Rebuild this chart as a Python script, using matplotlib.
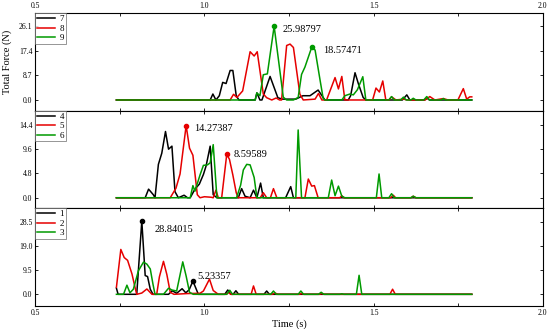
import matplotlib
matplotlib.use("Agg")
import matplotlib.pyplot as plt
from matplotlib.ticker import MultipleLocator, FormatStrFormatter

plt.rcParams['font.family'] = ['Liberation Serif', 'DejaVu Serif']

# ---- data: (time [s], force [N]) vertices per sensor ----
t1 = [0.74, 0.745, 0.80, 0.815, 0.825, 0.832, 0.840, 0.848, 0.894, 0.905, 0.918, 0.934, 0.945, 0.955, 0.966, 0.975,
      0.982, 1.060, 1.069, 1.078, 1.085, 1.093, 1.101, 1.176, 1.184, 1.192, 1.79]
f1 = [2.4, 0, 0, 28.84015, 7.4, 7.0, 2.0, 0, 0, 1.4, 0.4, 2.2, 0.6, 1.8, 5.23357, 2.3,
      0, 0, 1.7, 0, 0, 1.4, 0, 0, 1.3, 0, 0]

t2 = [0.74, 0.753, 0.763, 0.773, 0.786, 0.795, 0.800, 0.815, 0.830, 0.845, 0.859, 0.867, 0.879, 0.889, 0.899, 0.910,
      0.950, 0.987, 0.997, 1.015, 1.026, 1.041, 1.065, 1.071, 1.078, 1.138, 1.145, 1.153, 1.200, 1.209, 1.217,
      1.280, 1.287, 1.295, 1.340, 1.347, 1.355, 1.548, 1.556, 1.564, 1.79]
f2 = [2.8, 17.7, 14.5, 13.4, 8.0, 2.7, 0, 0.5, 2.1, 0, 0, 6.9, 13.0, 7.8, 0.8, 0,
      0.3, 0.4, 1.3, 6.0, 1.5, 0, 0, 0.7, 0, 0, 3.3, 0, 0, 0.5, 0,
      0, 0.3, 0, 0, 0.3, 0, 0, 2.0, 0, 0]

t3 = [0.74, 0.761, 0.771, 0.780, 0.790, 0.805, 0.820, 0.830, 0.840, 0.848, 0.854, 0.879, 0.894, 0.904, 0.918, 0.936,
      0.946, 0.956, 0.967, 1.066, 1.075, 1.083, 1.196, 1.204, 1.212, 1.277, 1.285, 1.293, 1.337, 1.345, 1.353,
      1.400, 1.406, 1.412, 1.449, 1.457, 1.465, 1.79]
f3 = [0, 0, 3.6, 0.6, 2.0, 9.3, 12.7, 11.9, 10.0, 4.0, 0, 0, 2.4, 1.7, 1.3, 12.8,
      7.2, 0.8, 0, 0, 1.6, 0, 0, 1.3, 0, 0, 1.3, 0, 0, 0.8, 0,
      0, 0.2, 0, 0, 7.5, 0, 0]

t4 = [0.74, 0.825, 0.835, 0.849, 0.854, 0.864, 0.874, 0.885, 0.894, 0.904, 0.913, 0.923, 0.940, 0.950, 0.958, 0.972,
      0.985, 0.997, 1.005, 1.017, 1.026, 1.037, 1.100, 1.110, 1.120, 1.135, 1.145, 1.155, 1.166, 1.174,
      1.240, 1.255, 1.263, 1.79]
f4 = [0, 0, 1.7, 0.6, 0, 6.6, 8.8, 13.1, 9.6, 10.2, 1.2, 0, 0.5, 0, 0, 1.7,
      2.7, 4.6, 6.3, 10.2, 0.6, 0, 0, 1.8, 0.3, 0, 1.5, 0, 2.9, 0,
      0, 2.2, 0, 0]

t5 = [0.74, 0.899, 0.916, 0.928, 0.946, 0.956, 0.966, 0.979, 0.987, 1.000, 1.020, 1.026, 1.034, 1.041, 1.051, 1.066,
      1.074, 1.084, 1.094, 1.100, 1.165, 1.174, 1.184, 1.195, 1.204, 1.214, 1.297, 1.307, 1.317, 1.325, 1.336,
      1.400, 1.406, 1.412, 1.550, 1.558, 1.565, 1.610, 1.617, 1.625, 1.79]
f5 = [0, 0, 1.9, 4.7, 14.27387, 9.8, 8.4, 0.6, 0, 0.2, 0.1, 0, 1.5, 0, 0, 8.59589,
      7.6, 4.5, 1.0, 0, 0, 1.0, 0, 0, 1.8, 0, 0, 3.7, 2.3, 2.4, 0,
      0, 0.4, 0, 0, 0.5, 0, 0, 0.3, 0, 0]

t6 = [0.74, 0.958, 0.966, 0.972, 0.987, 0.997, 1.009, 1.017, 1.026, 1.037, 1.095, 1.107, 1.115, 1.125, 1.135, 1.147,
      1.155, 1.270, 1.277, 1.287, 1.366, 1.376, 1.386, 1.396, 1.406, 1.415, 1.508, 1.516, 1.524,
      1.545, 1.553, 1.561, 1.610, 1.617, 1.625, 1.79]
f6 = [0, 0, 2.4, 1.3, 4.5, 6.4, 6.5, 6.9, 10.5, 0, 0, 2.5, 5.5, 6.6, 6.5, 4.0,
      0, 0, 13.4, 0, 0, 3.5, 0.4, 2.3, 0.3, 0, 0, 4.7, 0,
      0, 0.8, 0, 0, 0.3, 0, 0]

t7 = [0.74, 1.017, 1.025, 1.034, 1.044, 1.054, 1.064, 1.076, 1.084, 1.094, 1.102, 1.150, 1.155, 1.164, 1.170, 1.194,
      1.217, 1.230, 1.270, 1.291, 1.312, 1.336, 1.356, 1.425, 1.432, 1.445, 1.455, 1.469, 1.477,
      1.585, 1.598, 1.607, 1.650, 1.658, 1.665, 1.79]
f7 = [0, 0, 2.1, 0, 1.5, 6.2, 5.8, 10.4, 10.4, 1.5, 0, 0, 2.5, 0, 0, 8.3,
      0.8, 0.3, 0.3, 1.5, 1.5, 3.5, 0, 0, 1.5, 9.6, 5.7, 0.9, 0,
      0, 1.8, 0, 0, 0.6, 0, 0]

t8 = [0.74, 1.076, 1.086, 1.096, 1.113, 1.135, 1.147, 1.156, 1.174, 1.184, 1.199, 1.212, 1.222, 1.228, 1.243, 1.253,
      1.263, 1.282, 1.292, 1.327, 1.337, 1.347, 1.361, 1.386, 1.396, 1.406, 1.415, 1.497, 1.507, 1.517, 1.527,
      1.536, 1.545, 1.553, 1.566, 1.588, 1.600, 1.652, 1.666, 1.681, 1.706, 1.720, 1.749, 1.765, 1.775, 1.784, 1.79]
f8 = [0, 0, 2.0, 0.9, 3.2, 17.0, 15.5, 17.0, 2.1, 0.8, 0, 0.7, 0, 0, 19.2, 19.7,
      18.5, 2.1, 0, 0.3, 2.3, 0, 0, 7.9, 3.9, 8.3, 0, 0, 4.2, 2.8, 6.7,
      0, 0, 1.1, 0, 0.3, 0, 0, 1.2, 0, 0.5, 0, 0, 4.0, 0.3, 1.1, 1.1]

t9 = [0.74, 1.150, 1.155, 1.164, 1.174, 1.186, 1.206, 1.233, 1.243, 1.263, 1.277, 1.287, 1.297, 1.317, 1.327, 1.342,
      1.351, 1.356, 1.406, 1.415, 1.430, 1.440, 1.452, 1.468, 1.477, 1.545, 1.553, 1.561, 1.580, 1.588, 1.596,
      1.610, 1.617, 1.625, 1.648, 1.657, 1.665, 1.700, 1.706, 1.712, 1.79]
f9 = [0, 0, 2.5, 1.5, 8.9, 9.2, 25.98797, 1.0, 0, 0, 0.9, 9.0, 11.6, 18.57471, 17.6, 6.8,
      0.5, 0, 0, 1.5, 2.1, 1.8, 3.6, 8.2, 0, 0, 1.2, 0, 0, 1.0, 0,
      0, 0.6, 0, 0, 1.2, 0, 0, 0.5, 0, 0]

# annotated peaks: (time, force, text offset in pixels)
peaks_top = [(1.206, 25.98797, (8, -3)), (1.317, 18.57471, (11, -3))]
peaks_mid = [(0.946, 14.27387, (8, -3)), (1.066, 8.59589, (7, 0))]
peaks_bot = [(0.815, 28.84015, (13, -8)), (0.966, 5.23357, (4, 5))]

yticks_top = [0.0, 8.7, 17.4, 26.1]
yticks_mid = [0.0, 4.8, 9.6, 14.4]
yticks_bot = [0.0, 9.5, 19.0, 28.5]

colors = ['black', '#e60000', '#009a00']

panels = [
    (['7', '8', '9'], [(t7, f7), (t8, f8), (t9, f9)], peaks_top, 2, yticks_top, (-3.8, 30.6)),
    (['4', '5', '6'], [(t4, f4), (t5, f5), (t6, f6)], peaks_mid, 1, yticks_mid, (-2.1, 17.2)),
    (['1', '2', '3'], [(t1, f1), (t2, f2), (t3, f3)], peaks_bot, 0, yticks_bot, (-4.6, 33.9)),
]

fig, axes = plt.subplots(3, 1, figsize=(5.5, 3.29), dpi=100, sharex=True)
fig.subplots_adjust(left=0.064, right=0.987, top=0.96, bottom=0.07, hspace=0)

for i, (ax, (labels, series, peaks, peakIdx, yticks, ylim)) in enumerate(zip(axes, panels)):

    for (t, f), lab, col in zip(series, labels, colors):
        ax.plot(t, f, color=col, linewidth=1.1, label=lab)

    for pt, pf, off in peaks:
        ax.plot(pt, pf, 'o', color=colors[peakIdx], markersize=3)
        ax.annotate(f"{pf:.5f}", (pt, pf), xytext=off, textcoords='offset pixels',
                    fontsize=7.5, va='center', ha='left')

    ax.set_xlim(0.5, 2.0)
    ax.set_ylim(*ylim)
    ax.set_yticks(yticks)
    ax.yaxis.set_major_formatter(FormatStrFormatter('%.1f'))
    ax.xaxis.set_major_locator(MultipleLocator(0.5))
    ax.xaxis.set_minor_locator(MultipleLocator(0.25))
    ax.xaxis.set_major_formatter(FormatStrFormatter('%.1f'))
    ax.tick_params(axis='both', which='both', direction='in', top=True, right=True,
                   labelsize=5.5, length=2.5, width=0.6, pad=2)
    ax.tick_params(axis='x', labeltop=(i == 0), labelbottom=(i == 2))
    for sp in ax.spines.values():
        sp.set_linewidth(0.8)

    leg = ax.legend(loc='upper left', fontsize=6.5, frameon=True, fancybox=False,
                    edgecolor='0.4', borderaxespad=0, handlelength=2.0,
                    labelspacing=0.12, borderpad=0.2, handletextpad=0.5)
    leg.get_frame().set_linewidth(0.6)

axes[0].set_ylabel("Total Force (N)", fontsize=7.5)
axes[0].yaxis.set_label_coords(-0.046, 0.5)
axes[2].set_xlabel("Time (s)", fontsize=7.5)
axes[2].xaxis.set_label_coords(0.5, -0.135)

fig.savefig("out.png", dpi=100)
